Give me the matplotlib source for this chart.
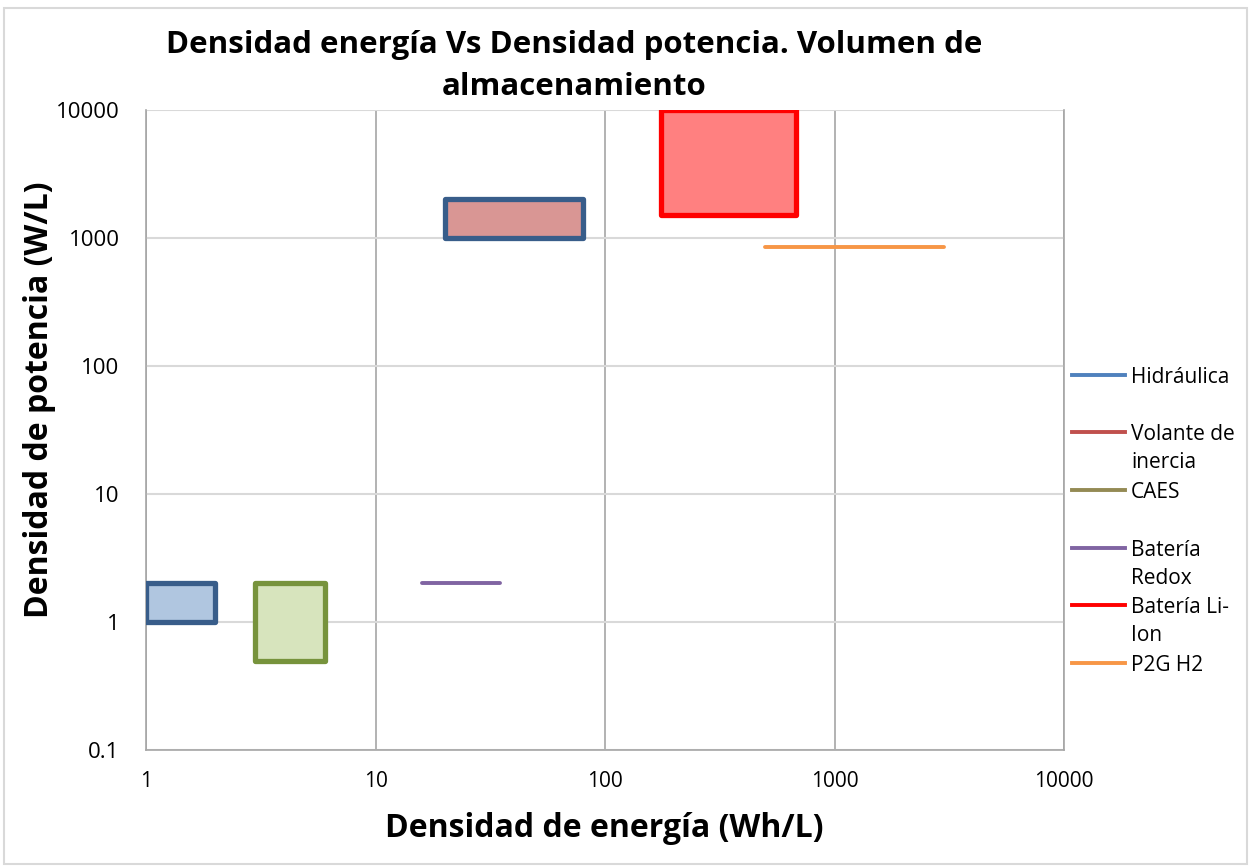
import matplotlib
matplotlib.use("Agg")
import matplotlib.pyplot as plt
from matplotlib.lines import Line2D
from matplotlib.patches import Rectangle

plt.rcParams['font.family'] = ['Open Sans', 'DejaVu Sans']

# ranges (Wh/L, W/L)
names = ["Hidráulica", "Volante de\ninercia", "CAES", "Batería\nRedox", "Batería Li-\nIon", "P2G H2"]
e_min = [1, 20, 3, 16, 175, 500]
e_max = [2, 80, 6, 35, 680, 3000]
p_min = [1, 1000, 0.5, 2, 1500, 850]
p_max = [2, 2000, 2, 2, 10000, 850]

legend_colors = ["#4F81BD", "#C0504D", "#948A54", "#8064A2", "#FF0000", "#F79646"]
edge_colors = ["#385D8A", "#385D8A", "#77933C", "#8064A2", "#FF0000", "#F79646"]
fill_colors = ["#B0C6E0", "#D99694", "#D7E4BD", None, "#FF8080", None]

x_ticks = [1, 10, 100, 1000, 10000]
y_ticks = [0.1, 1, 10, 100, 1000, 10000]
y_tick_labels = ["0.1", "1", "10", "100", "1000", "10000"]

W, H = 1251, 867
fig = plt.figure(figsize=(W / 100, H / 100), dpi=100)
fig.patches.append(Rectangle((0.003, 0.003), 0.994, 0.988, transform=fig.transFigure,
                             fill=False, edgecolor="#D9D9D9", linewidth=1.5))
ax = fig.add_axes([146 / W, 1 - 750 / H, 918 / W, 640 / H])
ax.set_xscale("log")
ax.set_yscale("log")
ax.set_xlim(1, 10000)
ax.set_ylim(0.1, 10000)

for i in range(len(names)):
    xs = [e_min[i], e_max[i], e_max[i], e_min[i]]
    ys = [p_min[i], p_min[i], p_max[i], p_max[i]]
    if fill_colors[i] is None:
        ax.plot([e_min[i], e_max[i]], [p_min[i], p_max[i]], color=edge_colors[i],
                linewidth=2.8, solid_capstyle="round", zorder=3)
    else:
        ax.fill(xs, ys, facecolor=fill_colors[i], edgecolor=edge_colors[i],
                linewidth=3.8, joinstyle="round", zorder=3)

ax.set_xticks(x_ticks)
ax.set_xticklabels([str(v) for v in x_ticks])
ax.set_yticks(y_ticks)
ax.set_yticklabels(y_tick_labels)
ax.minorticks_off()
ax.tick_params(length=0)
ax.tick_params(axis="x", labelsize=15, pad=15)
ax.tick_params(axis="y", labelsize=16, pad=19)

ax.spines["top"].set_visible(False)
for s in ["left", "bottom", "right"]:
    ax.spines[s].set_color("#A6A6A6")
    ax.spines[s].set_linewidth(1.2)
ax.xaxis.grid(True, color="#A6A6A6", linewidth=1.2)
ax.yaxis.grid(True, color="#D9D9D9", linewidth=1.5)
ax.set_axisbelow(True)

ax.set_xlabel("Densidad de energía (Wh/L)", fontsize=23, fontweight="bold")
ax.set_ylabel("Densidad de potencia (W/L)", fontsize=23, fontweight="bold")
ax.xaxis.set_label_coords(0.499, -0.097)
ax.yaxis.set_label_coords(-0.098, 0.547)

fig.text(0.459, 1 - 66 / H, "Densidad energía Vs Densidad potencia. Volumen de\nalmacenamiento",
         ha="center", va="center", fontsize=22.5, fontweight="bold", linespacing=1.55)

# legend drawn by hand so wrapped labels keep their line on the first row
leg_y = [375, 432, 490, 548, 605, 663]
for i in range(len(names)):
    yf = 1 - leg_y[i] / H
    fig.add_artist(Line2D([1072 / W, 1125 / W], [yf, yf], transform=fig.transFigure,
                          color=legend_colors[i], linewidth=2.8))
    fig.text(1131 / W, 1 - (leg_y[i] - 8) / H, names[i], ha="left", va="top", fontsize=15,
             linespacing=1.45)

fig.savefig("out.png", dpi=100)
